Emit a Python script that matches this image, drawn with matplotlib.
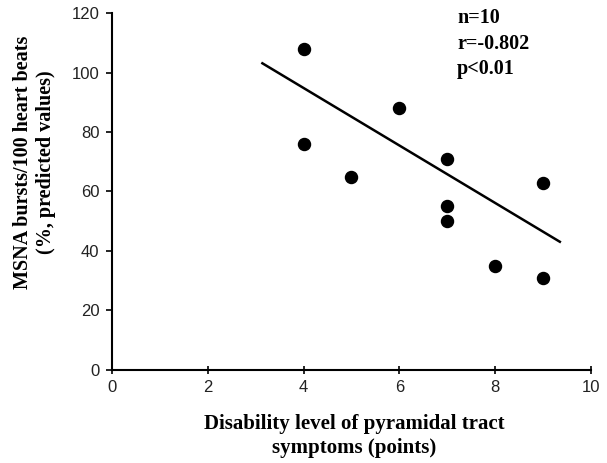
import numpy as np
import matplotlib
matplotlib.use("Agg")
import matplotlib.pyplot as plt

# Data
disability = [4, 4, 5, 6, 7, 7, 7, 8, 9, 9]
msna = [108, 76, 65, 88, 71, 55, 50, 35, 63, 31]

# regression line end points (as drawn in the original)
fit_x = [3.14, 9.35]
fit_y = [103.1, 43.1]

x_ticks = [0, 2, 4, 6, 8, 10]
y_ticks = [0, 20, 40, 60, 80, 100, 120]

stats_text = "n=10\nr=-0.802\np<0.01"

serif = ["Liberation Serif", "DejaVu Serif"]
sans = ["Liberation Sans", "DejaVu Sans"]

W, H = 607, 463
fig = plt.figure(figsize=(W / 100, H / 100), dpi=100)
ax = fig.add_axes([0.1845, 0.2009, 0.7891, 0.771])

ax.scatter(disability, msna, s=75, color="black", zorder=3)
ax.plot(fit_x, fit_y, color="black", linewidth=1.8)

ax.set_xlim(0, 10)
ax.set_ylim(0, 120)
ax.set_xticks(x_ticks)
ax.set_yticks(y_ticks)

for side in ["top", "right"]:
    ax.spines[side].set_visible(False)
for side in ["left", "bottom"]:
    ax.spines[side].set_linewidth(1.5)

ax.tick_params(axis="y", direction="out", length=4, width=1.2, labelsize=12, pad=5)
ax.tick_params(axis="x", direction="inout", length=6, width=1.2, labelsize=12, pad=4)
for lbl in ax.get_xticklabels() + ax.get_yticklabels():
    lbl.set_fontfamily(sans)
    lbl.set_color("#222222")

# axis titles, placed like the original
fig.text(354.5 / W, 1 - 436 / H, "Disability level of pyramidal tract\nsymptoms (points)",
         ha="center", va="center", fontsize=15, fontweight="bold", family=serif,
         linespacing=1.2)
fig.text(34.5 / W, 1 - 162 / H, "MSNA bursts/100 heart beats\n(%, predicted values)",
         ha="center", va="center", rotation=90, fontsize=14.5, fontweight="bold",
         family=serif, linespacing=1.2)

fig.text(457 / W, 1 - 8 / H, stats_text, ha="left", va="top",
         fontsize=14.5, fontweight="bold", family=serif, linespacing=1.38)

plt.savefig("out.png", dpi=100)
